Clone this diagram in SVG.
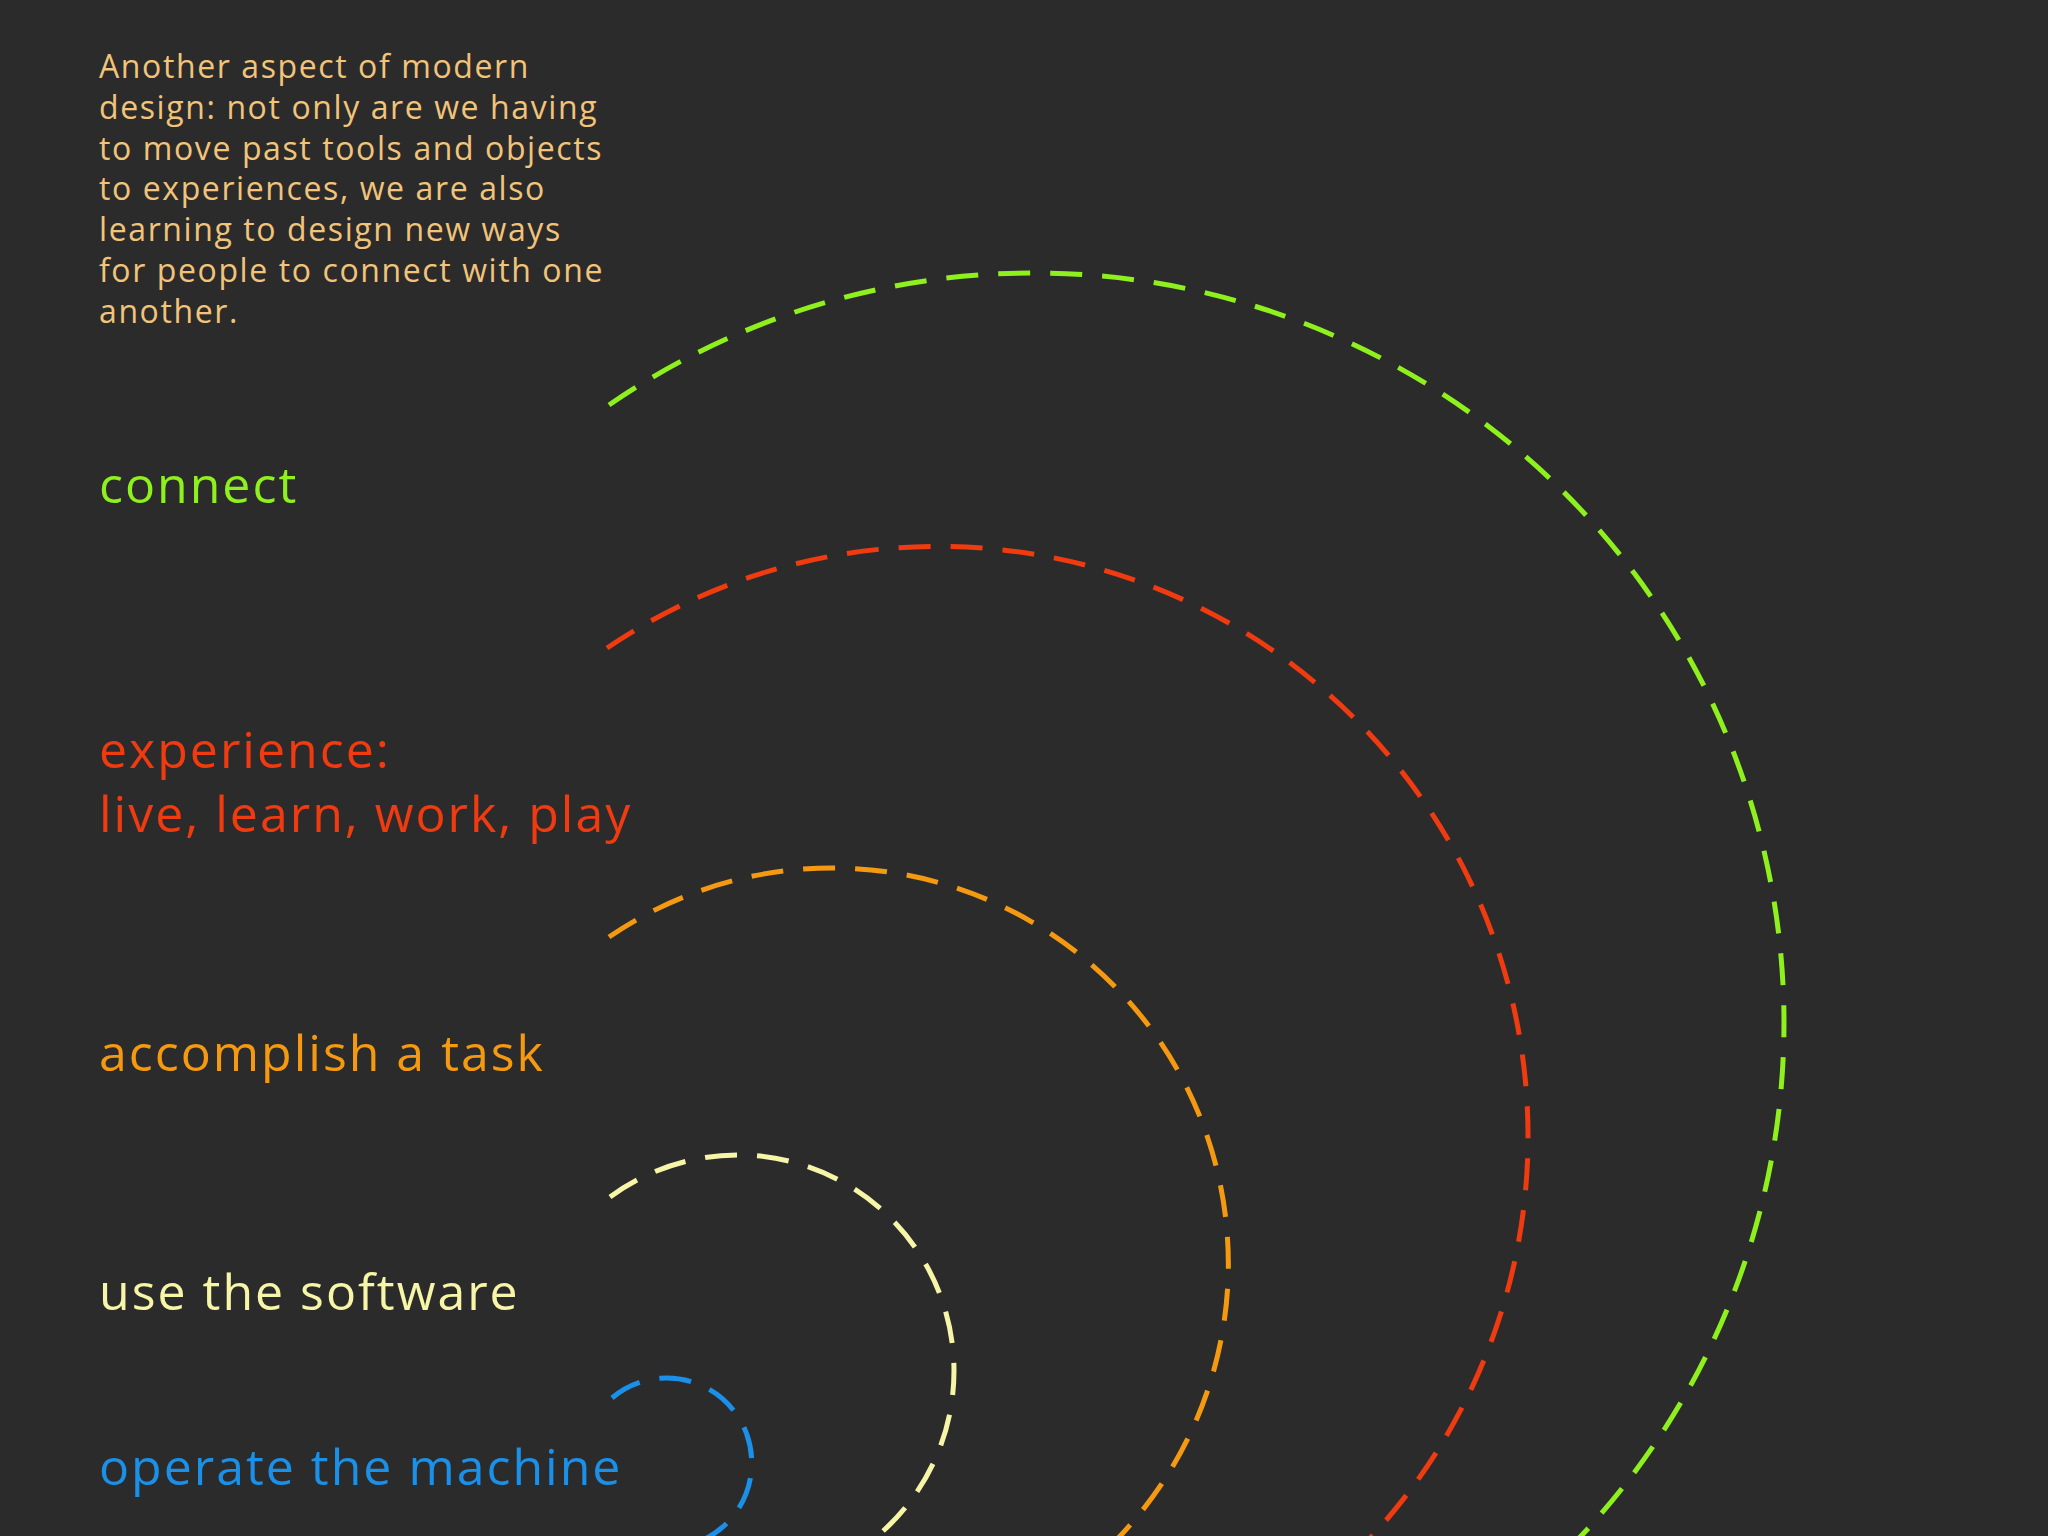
<svg xmlns="http://www.w3.org/2000/svg" width="2048" height="1536" viewBox="0 0 2048 1536">
<style>
.arc{fill:none;stroke-width:5;stroke-dasharray:32 20}
text{font-family:"Open Sans","Liberation Sans",sans-serif}
.p{font-size:32px;fill:#f2c47a;letter-spacing:1.6px}
.l{font-size:50px;letter-spacing:2px}
</style>
<rect width="2048" height="1536" fill="#2b2b2c"/>
<g id="intro">
<text class="p" x="99" y="78">Another aspect of modern</text>
<text class="p" x="99" y="119">design: not only are we having</text>
<text class="p" x="99" y="160">to move past tools and objects</text>
<text class="p" x="99" y="200">to experiences, we are also</text>
<text class="p" x="99" y="241">learning to design new ways</text>
<text class="p" x="99" y="282">for people to connect with one</text>
<text class="p" x="99" y="323">another.</text>
</g>
<g id="labels">
<text class="l" x="99" y="503" fill="#8ef01c">connect</text>
<text class="l" x="99" y="768" fill="#f03a10">experience:</text>
<text class="l" x="99" y="832" fill="#f03a10">live, learn, work, play</text>
<text class="l" x="99" y="1071" fill="#f59a10">accomplish a task</text>
<text class="l" x="99" y="1310" fill="#f7f5a8">use the software</text>
<text class="l" x="99" y="1485" fill="#1a90e8">operate the machine</text>
</g>
<g id="arcs">
<path class="arc" stroke="#8ef01c" d="M609,405 A750,750 0 0 1 1507,1605"/>
<path class="arc" stroke="#f03a10" d="M607,648 A590,590 0 1 1 1142,1690"/>
<path class="arc" stroke="#f59a10" d="M609,937 A396,396 0 1 1 901,1654"/>
<path class="arc" stroke="#f7f5a8" d="M610,1197 A216,216 0 1 1 738,1587"/>
<path class="arc" stroke="#1a90e8" d="M612,1398 A85,85 0 1 1 666,1548"/>
</g>
</svg>
